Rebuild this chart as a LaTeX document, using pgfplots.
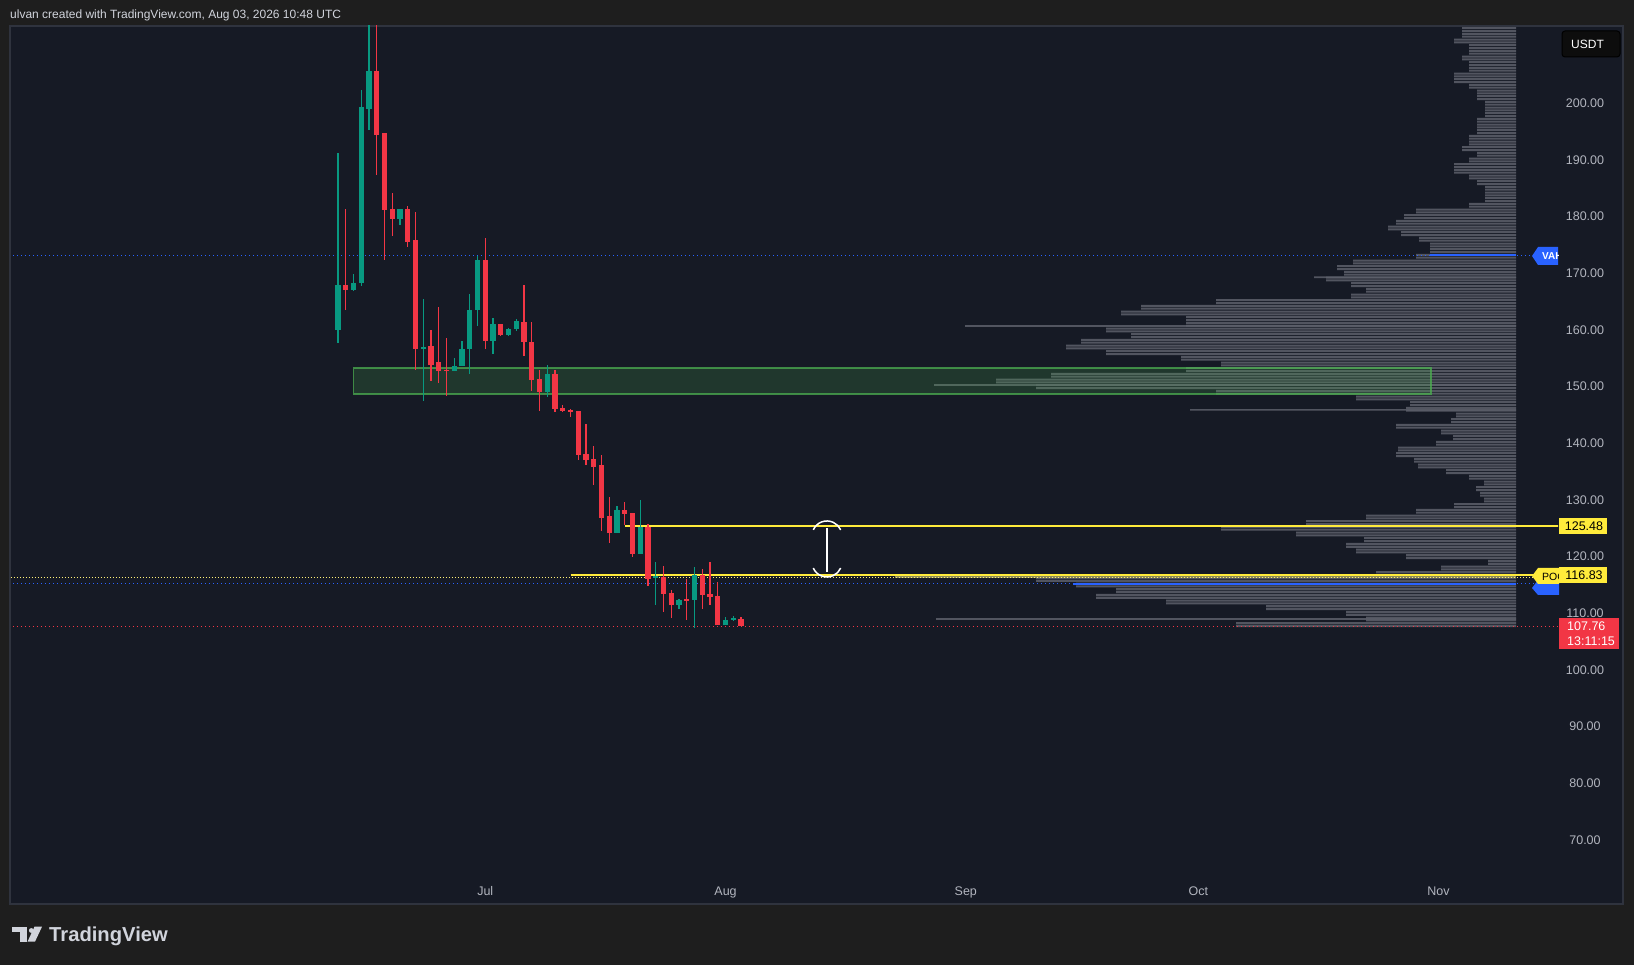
\documentclass[border=0pt]{standalone}
\usepackage{fontspec}
\setmainfont{Liberation Sans}
\usepackage{pgfplots}
\usepackage{pgfplotstable}
\pgfplotsset{compat=1.18}

\definecolor{outerbg}{HTML}{1E1E1E}
\definecolor{panebg}{HTML}{161A25}
\definecolor{framec}{HTML}{2F333E}
\definecolor{upc}{HTML}{089981}
\definecolor{dnc}{HTML}{F23645}
\definecolor{axtext}{HTML}{B2B5BE}
\definecolor{hdrtext}{HTML}{D1D4DC}
\definecolor{tvblue}{HTML}{2962FF}
\definecolor{tvyellow}{HTML}{FFEB3B}
\definecolor{profc}{HTML}{5D606B}
\definecolor{pocc}{HTML}{8C8A5A}
\definecolor{zoneg}{HTML}{4CAF50}

% daily candles, day 0 = 1 Jul
\pgfplotstableread{
d o h l c
-19 160.0 191.2 157.7 168.0
-17 167.0 169.8 166.8 168.3
-16 168.2 202.3 167.7 199.3
-15 199.0 216.0 195.2 205.7
-11 179.5 181.4 178.5 181.4
-8 156.8 165.4 147.4 157.0
-4 152.7 155.1 152.7 153.7
-3 153.7 158.1 153.6 156.6
-2 156.6 166.3 152.3 163.6
-1 163.5 173.0 160.7 172.3
1 158.0 162.1 155.7 161.1
3 159.2 160.3 159.0 160.1
4 160.1 162.0 159.8 161.6
8 149.0 153.8 148.2 152.3
17 124.2 128.9 124.2 128.2
20 120.5 130.0 120.4 125.3
22 116.2 119.1 111.4 116.5
25 111.4 112.6 110.8 112.4
27 112.4 118.1 107.4 116.8
31 108.0 109.3 107.9 108.9
32 108.8 109.5 108.6 109.2
}\upcandles

\pgfplotstableread{
d o h l c
-18 168.0 181.4 163.6 167.0
-14 205.7 216.0 187.4 194.4
-13 194.7 194.8 172.4 181.2
-12 181.4 184.2 176.6 179.5
-10 181.4 181.9 174.7 175.5
-9 175.8 180.9 153.0 156.7
-7 157.2 160.0 151.0 153.9
-6 154.3 164.1 150.7 152.7
-5 153.0 158.6 148.3 152.8
0 172.3 176.2 156.6 158.0
2 161.0 161.1 159.0 159.2
5 161.4 167.9 155.4 157.9
6 157.9 161.4 149.2 151.2
7 151.3 153.0 145.7 149.1
9 152.3 153.0 145.6 146.1
10 146.2 146.7 145.6 145.7
11 145.8 146.1 144.7 145.6
12 145.7 145.7 137.1 137.9
13 138.1 143.4 136.1 137.1
14 137.2 139.5 132.6 135.9
15 136.1 137.9 124.6 126.9
16 127.2 130.5 122.4 124.2
18 128.2 129.7 125.6 127.5
19 127.7 127.7 119.9 120.5
21 125.3 125.8 114.9 116.1
23 116.4 118.3 110.3 113.4
24 113.6 114.2 109.2 111.4
26 112.5 116.1 108.9 112.3
28 116.8 117.8 110.7 113.3
29 113.4 119.1 111.4 112.8
30 113.1 115.6 107.9 108.0
33 109.0 109.3 107.76 107.76
}\dncandles

% volume profile: price row, bar length (px from the right edge)
\pgfplotstableread{
p len
213 54
212 54
211 62
210 47
209 47
208 54
207 47
206 47
205 62
204 62
203 47
202 39
201 39
200 31
199 31
198 31
197 39
196 39
195 39
194 47
193 47
192 54
191 39
190 47
189 62
188 62
187 47
186 39
185 31
184 31
183 31
182 47
181 100
180 112
179 120
178 128
177 115
176 97
175 86
174 86
173 100
172 163
171 179
170 172
169 190
168 165
167 150
166 165
165 300
164 375
163 395
162 330
161 330
160 410
159 385
158 435
157 450
156 410
155 335
154 295
153 330
152 465
151 520
150 480
149 300
148 160
147 106
146 110
145 60
144 65
143 120
142 75
141 63
140 80
139 118
138 120
137 102
136 98
135 70
134 47
133 32
132 40
131 36
130 32
129 62
128 100
127 150
126 210
125 295
124 220
123 152
122 170
121 160
120 110
119 28
118 75
117 140
116 480
115 440
114 400
113 420
112 350
111 250
110 170
109 150
108 280
}\prof

\pgfplotstableread{
p len
160.7 551
150.3 582
145.9 326
109.0 580
169.3 202
}\spikes

\begin{document}
\begin{tikzpicture}
\useasboundingbox (0,0) rectangle (1634pt,965pt);
\fill[outerbg] (0,0) rectangle (1634pt,965pt);
\begin{scope}[x=1pt,y=-1pt,shift={(0pt,965pt)}]
  \fill[panebg] (10,26) rectangle (1623,904);
  \draw[framec, line width=1.2pt] (10,26) rectangle (1623,904);
  \node[anchor=west, inner sep=0, text=hdrtext, font=\fontsize{12}{14}\selectfont] at (10,15) {ulvan created with TradingView.com, Aug 03, 2026 10:48 UTC};
  % footer logo
  \fill[hdrtext] (11.7,926.7) rectangle (26.7,931.7);
  \fill[hdrtext] (20,926.7) rectangle (26.7,941.7);
  \fill[hdrtext] (31.3,930.5) circle (2.4);
  \fill[hdrtext] (34.5,926.7) -- (42,926.7) -- (35,941.7) -- (27.5,941.7) -- cycle;
  \node[anchor=base west, inner sep=0, text=hdrtext, font=\bfseries\fontsize{20.2}{22}\selectfont] at (49,941.7) {TradingView};
\end{scope}

% volume profile (x = px to the left of its right edge)
\begin{axis}[at={(10.5pt,89pt)}, anchor=south west, width=1547.5pt, height=850pt, scale only axis,
  x dir=reverse, xmin=-42, xmax=1505.5, ymin=63.65, ymax=213.64, hide axis, enlargelimits=false]
  \addplot[xbar, bar shift=0pt, bar width=0.36, fill=profc, draw=none, fill opacity=0.85]
    table[x=len, y expr=\thisrow{p}+0.25] {\prof};
  \addplot[xbar, bar shift=0pt, bar width=0.36, fill=profc, draw=none, fill opacity=0.85]
    table[x=len, y expr=\thisrow{p}-0.25] {\prof};
  \addplot[xbar, bar shift=0pt, bar width=0.3, fill=profc, draw=none, fill opacity=0.85]
    table[x=len, y=p] {\spikes};
  \addplot[xbar, bar shift=0pt, bar width=0.45, fill=pocc, draw=none]
    coordinates {(621,116.5)};
  \addplot[tvblue, line width=2pt] coordinates {(0,173.2) (86,173.2)};
  \addplot[tvblue, line width=2pt] coordinates {(0,115.2) (443,115.2)};
\end{axis}

% price chart
\begin{axis}[at={(10.5pt,89pt)}, anchor=south west, width=1547.5pt, height=850pt, scale only axis,
  xmin=-61.26, xmax=138.41, ymin=63.65, ymax=213.64, enlargelimits=false,
  axis line style={draw=none}, major tick length=0pt, tick style={draw=none},
  xtick={0,31,62,92,123}, xticklabels={Jul,Aug,Sep,Oct,Nov},
  xticklabel style={anchor=base, inner sep=0pt, yshift=-19.2pt, text=axtext, font=\fontsize{12.5}{14}\selectfont},
  ytick={70,80,90,100,110,120,130,140,150,160,170,180,190,200},
  yticklabels={70.00,80.00,90.00,100.00,110.00,120.00,130.00,140.00,150.00,160.00,170.00,180.00,190.00,200.00},
  yticklabel pos=right,
  yticklabel style={anchor=center, xshift=27pt, text=axtext, font=\fontsize{12.5}{14}\selectfont},
  candle/.style={draw=none, no markers, error bars/.cd, y dir=both, y explicit, error mark=none},
  ]
  % zone
  \addplot[fill=zoneg, fill opacity=0.2, draw=zoneg, draw opacity=0.75, line width=1.5pt]
    coordinates {(-17,148.7) (122,148.7) (122,153.3) (-17,153.3)} -- cycle;
  % horizontal levels
  \addplot[tvblue, line width=1pt, dash pattern=on 1pt off 3pt] coordinates {(-62,173.2) (140,173.2)};
  \addplot[tvblue, line width=1pt, dash pattern=on 1pt off 3pt] coordinates {(-62,115.2) (140,115.2)};
  \addplot[tvyellow!70!white, line width=1pt, dash pattern=on 1pt off 2pt] coordinates {(-62,116.4) (140,116.4)};
  \addplot[dnc, line width=1pt, dash pattern=on 1pt off 3pt] coordinates {(-62,107.76) (140,107.76)};
  \addplot[tvyellow, line width=2pt] coordinates {(18,125.48) (140,125.48)};
  \addplot[tvyellow, line width=2pt] coordinates {(11,116.83) (140,116.83)};
  % candles: wicks
  \addplot[candle, error bar style={draw=upc, line width=1.2pt}]
    table[x=d, y expr={(\thisrow{h}+\thisrow{l})/2}, y error expr={(\thisrow{h}-\thisrow{l})/2}] {\upcandles};
  \addplot[candle, error bar style={draw=dnc, line width=1.2pt}]
    table[x=d, y expr={(\thisrow{h}+\thisrow{l})/2}, y error expr={(\thisrow{h}-\thisrow{l})/2}] {\dncandles};
  % candles: bodies
  \addplot[candle, error bar style={draw=upc, line width=5.2pt}]
    table[x=d, y expr={(\thisrow{o}+\thisrow{c})/2}, y error expr={max(abs(\thisrow{o}-\thisrow{c})/2,0.1)}] {\upcandles};
  \addplot[candle, error bar style={draw=dnc, line width=5.2pt}]
    table[x=d, y expr={(\thisrow{o}+\thisrow{c})/2}, y error expr={max(abs(\thisrow{o}-\thisrow{c})/2,0.1)}] {\dncandles};
  % measure tool
  \draw[white, line width=1.5pt] (axis cs:44.09,125.06) -- (axis cs:44.09,117.3);
  \draw[white, line width=1.5pt] (axis cs:44.09,123.65) ++(156:15pt) arc[start angle=156, end angle=24, radius=15pt];
  \draw[white, line width=1.5pt] (axis cs:44.09,119.06) ++(204:15pt) arc[start angle=204, end angle=336, radius=15pt];
\end{axis}

\begin{scope}[x=1pt,y=-1pt,shift={(0pt,965pt)}]
  % VAH tag
  \begin{scope}
    \clip (1528,240) rectangle (1558,272);
    \fill[tvblue] (1532,256) -- (1538,247) -- (1560,247) -- (1560,265) -- (1538,265) -- cycle;
    \node[anchor=west, inner sep=0, text=white, font=\bfseries\fontsize{10}{10}\selectfont] at (1542,256.5) {VAH};
  \end{scope}
  % VAL + POC tags
  \begin{scope}
    \clip (1528,560) rectangle (1559,600);
    \fill[tvblue] (1532,588) -- (1538,580) -- (1560,580) -- (1560,595) -- (1538,595) -- cycle;
    \fill[tvyellow] (1532,576) -- (1538,568) -- (1560,568) -- (1560,584) -- (1538,584) -- cycle;
    \node[anchor=west, inner sep=0, text=black, font=\fontsize{10.5}{10}\selectfont] at (1542,576.5) {POC};
  \end{scope}
  % price labels
  \fill[tvyellow] (1559,518) rectangle (1607,534);
  \node[text=black, inner sep=0, font=\fontsize{12.5}{14}\selectfont] at (1584,526.5) {125.48};
  \fill[tvyellow] (1559,567) rectangle (1607,583);
  \node[text=black, inner sep=0, font=\fontsize{12.5}{14}\selectfont] at (1584,575.5) {116.83};
  \fill[dnc] (1559,618) rectangle (1619,649);
  \node[anchor=west, text=white, inner sep=0, font=\fontsize{12.5}{14}\selectfont] at (1567,626.5) {107.76};
  \node[anchor=west, text=white, inner sep=0, font=\fontsize{12.5}{14}\selectfont] at (1567,641) {13:11:15};
  % currency box
  \filldraw[fill=black!95, draw=framec!140, line width=1pt, rounded corners=3pt] (1562,31) rectangle (1620,57);
  \node[anchor=west, text=white, inner sep=0, font=\fontsize{12}{14}\selectfont] at (1571,44) {USDT};
\end{scope}
\end{tikzpicture}
\end{document}
